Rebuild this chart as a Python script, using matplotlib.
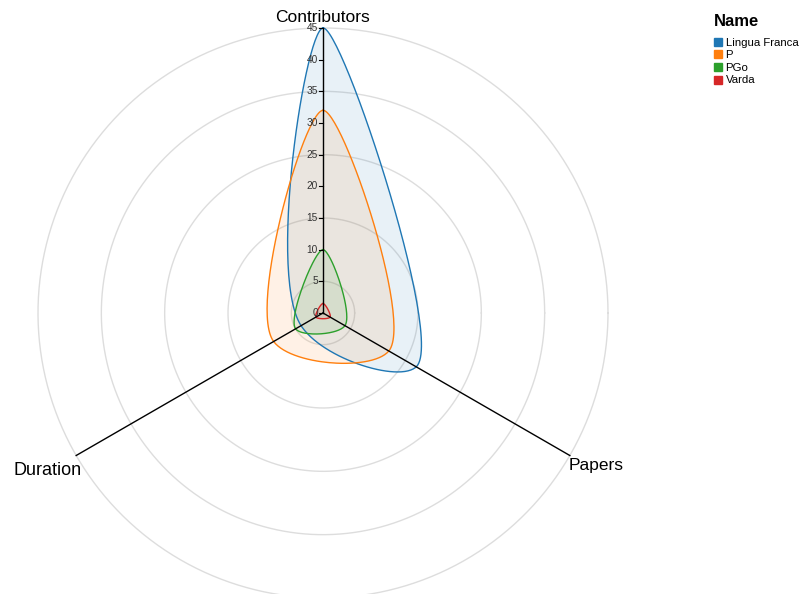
import numpy as np
import matplotlib
matplotlib.use("Agg")
import matplotlib.pyplot as plt
from matplotlib.lines import Line2D

plt.rcParams['font.family'] = ['Liberation Sans', 'DejaVu Sans']

# Data
axes_names = ["Contributors", "Papers", "Duration"]
axes_angles = [90, -30, 210]  # degrees
names = ["Lingua Franca", "P", "PGo", "Varda"]
contributors = [45, 32, 10, 1.5]
papers = [17, 12, 4, 1.3]
duration = [4, 9, 5, 1.3]
colors = ["#1f77b4", "#ff7f0e", "#2ca02c", "#d62728"]
ticks = list(range(0, 50, 5))
rings = [5, 15, 25, 35, 45]
rmax = 45

W, H = 803, 594
cx, cy = 323, 313        # centre in pixels
s = 285 / rmax           # pixels per unit


def catmull_rom_closed(pts, alpha=0.5, n=60):
    # same as d3 curveCatmullRomClosed
    pts = np.asarray(pts, float)
    m = len(pts)
    t = np.linspace(0, 1, n, endpoint=False)[:, None]
    out = []
    for i in range(m):
        p0, p1, p2, p3 = pts[i - 1], pts[i], pts[(i + 1) % m], pts[(i + 2) % m]
        l01 = np.linalg.norm(p1 - p0)
        l12 = np.linalg.norm(p2 - p1)
        l23 = np.linalg.norm(p3 - p2)
        l01a, l12a, l23a = l01 ** alpha, l12 ** alpha, l23 ** alpha
        l01_2a, l12_2a, l23_2a = l01 ** (2 * alpha), l12 ** (2 * alpha), l23 ** (2 * alpha)
        c1 = p1.copy()
        c2 = p2.copy()
        if l01a > 1e-12:
            a = 2 * l01_2a + 3 * l01a * l12a + l12_2a
            nn = 3 * l01a * (l01a + l12a)
            c1 = (p1 * a - p0 * l12_2a + p2 * l01_2a) / nn
        if l23a > 1e-12:
            b = 2 * l23_2a + 3 * l23a * l12a + l12_2a
            mm = 3 * l23a * (l23a + l12a)
            c2 = (p2 * b + p1 * l23_2a - p3 * l12_2a) / mm
        seg = ((1 - t) ** 3) * p1 + 3 * ((1 - t) ** 2) * t * c1 + 3 * (1 - t) * t ** 2 * c2 + t ** 3 * p2
        out.append(seg)
    out = np.vstack(out)
    return np.vstack([out, out[:1]])


fig = plt.figure(figsize=(W / 100, H / 100), dpi=100)
ax = fig.add_axes([0, 0, 1, 1])
ax.set_xlim(-cx / s, (W - cx) / s)
ax.set_ylim(-(H - cy) / s, cy / s)
ax.axis('off')

th = np.linspace(0, 2 * np.pi, 400)
for r in rings:
    ax.plot(r * np.cos(th), r * np.sin(th), color="#dddddd", lw=1, zorder=1)

for i, nm in enumerate(names):
    vals = [contributors[i], papers[i], duration[i]]
    pts = [(v * np.cos(np.radians(a)), v * np.sin(np.radians(a)))
           for v, a in zip(vals, axes_angles)]
    curve = catmull_rom_closed(pts)
    ax.fill(curve[:, 0], curve[:, 1], color=colors[i], alpha=0.1, lw=0, zorder=2)
    ax.plot(curve[:, 0], curve[:, 1], color=colors[i], lw=1, zorder=3)

for nm, a in zip(axes_names, axes_angles):
    ex, ey = rmax * np.cos(np.radians(a)), rmax * np.sin(np.radians(a))
    ax.plot([0, ex], [0, ey], color="black", lw=1, zorder=4)
    if nm == "Contributors":
        ax.annotate(nm, (ex, ey), xytext=(0, 2.5), textcoords='offset points',
                    ha='center', va='bottom', fontsize=12.5)
    elif nm == "Papers":
        ax.annotate(nm, (ex, ey), xytext=(-1, -2), textcoords='offset points',
                    ha='left', va='top', fontsize=12.5)
    else:
        ax.annotate(nm, (ex, ey), xytext=(4, -5), textcoords='offset points',
                    ha='right', va='top', fontsize=13)

for v in ticks:
    ax.plot([-0.65, 0], [v, v], color="black", lw=0.8, zorder=4)
    ax.text(-0.8, v, str(v), ha='right', va='center', fontsize=7.3, color="#333333", zorder=5)

fig.text(714 / W, 1 - 21 / H, "Name", ha='left', va='center',
         fontsize=12, fontweight='bold')
handles = [Line2D([], [], marker='s', linestyle='none', markersize=6,
                  markerfacecolor=c, markeredgecolor=c) for c in colors]
leg = fig.legend(handles, names, loc='upper left', bbox_to_anchor=(705 / W, 1 - 30 / H),
                 frameon=False, fontsize=8.2, handlelength=0.8, handletextpad=0.3,
                 labelspacing=0.22, borderpad=0.2)

fig.savefig("out.png", dpi=100)
